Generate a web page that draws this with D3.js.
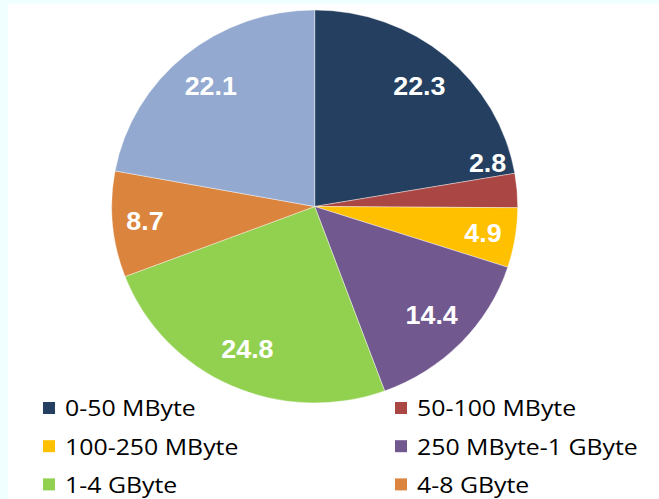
<!DOCTYPE html>
<html>
<head>
<meta charset="utf-8">
<script src="https://cdn.jsdelivr.net/npm/d3@7"></script>
<style>
  html, body { margin: 0; padding: 0; background: #f0ffff; }
  svg { display: block; }
</style>
</head>
<body>
<div class="chart-container"></div>
<script>
// data (the last slice's legend entry lies below the visible frame)
var categories = [
  '0-50 MByte',
  '50-100 MByte',
  '100-250 MByte',
  '250 MByte-1 GByte',
  '1-4 GByte',
  '4-8 GByte'
];
var shares = [22.3, 2.8, 4.9, 14.4, 24.8, 8.7, 22.1];
var colors = ['#243f60', '#aa4643', '#ffc000', '#71588f', '#92d050', '#db843d', '#93a9cf'];

var width = 659,
  height = 499,
  cx = 314.7,
  cy = 206.5,
  r = 196.5,
  stretch = 203 / 196.5;

var svg = d3
  .select('.chart-container')
  .append('svg')
  .attr('width', width)
  .attr('height', height);

// white plot area, thin azure strip left and top
svg
  .append('rect')
  .attr('fill', '#ffffff')
  .attr('x', 8)
  .attr('y', 4)
  .attr('width', width - 8)
  .attr('height', height - 4);

var pie = d3
  .pie()
  .value(function (d) { return d; })
  .sort(null);

var arc = d3.arc().innerRadius(0).outerRadius(r);

var slices = pie(shares);

var g = svg
  .append('g')
  .attr('transform', 'translate(' + cx + ',' + cy + ') scale(' + stretch + ',1)');

g.selectAll('path.slice')
  .data(slices)
  .enter()
  .append('path')
  .attr('class', 'slice')
  .attr('fill', function (d, i) { return colors[i]; })
  .attr('stroke', '#ffffff')
  .attr('stroke-width', 0.4)
  .attr('d', arc);

// labels: small slices sit closer to the rim, tiny one just above its edge
function labelPos(d) {
  var a, k;
  if (d.value < 3) {
    a = d.startAngle - 0.085;
    k = 0.88;
  } else {
    a = (d.startAngle + d.endAngle) / 2;
    k = d.value < 10 ? 0.84 : 0.8;
  }
  return [Math.sin(a) * r * k, -Math.cos(a) * r * k];
}

g.selectAll('text.value')
  .data(slices)
  .enter()
  .append('text')
  .attr('class', 'value')
  .attr('x', function (d) { return labelPos(d)[0]; })
  .attr('y', function (d) { return labelPos(d)[1]; })
  .attr('text-anchor', 'middle')
  .attr('dominant-baseline', 'central')
  .attr('fill', '#ffffff')
  .attr('font-family', '"Liberation Sans", Arial, sans-serif')
  .attr('font-weight', 'bold')
  .attr('font-size', 26)
  .text(function (d) { return d.value.toFixed(1); });

// legend, two columns
var colX = d3.scaleOrdinal().domain([0, 1]).range([43, 395]);
var rowY = function (row) { return 408 + row * 38.2; };

var legend = svg
  .selectAll('g.legend')
  .data(categories)
  .enter()
  .append('g')
  .attr('class', 'legend')
  .attr('transform', function (d, i) {
    return 'translate(' + colX(i % 2) + ',' + rowY(Math.floor(i / 2)) + ')';
  });

legend
  .append('rect')
  .attr('x', 0)
  .attr('y', -6)
  .attr('width', 12)
  .attr('height', 12)
  .attr('fill', function (d, i) { return colors[i]; });

legend
  .append('text')
  .attr('transform', 'translate(22,0) scale(1.13,1)')
  .attr('dominant-baseline', 'central')
  .attr('fill', '#000000')
  .attr('font-family', '"Open Sans", sans-serif')
  .attr('font-size', 22)
  .text(function (d) { return d; });
</script>
</body>
</html>
